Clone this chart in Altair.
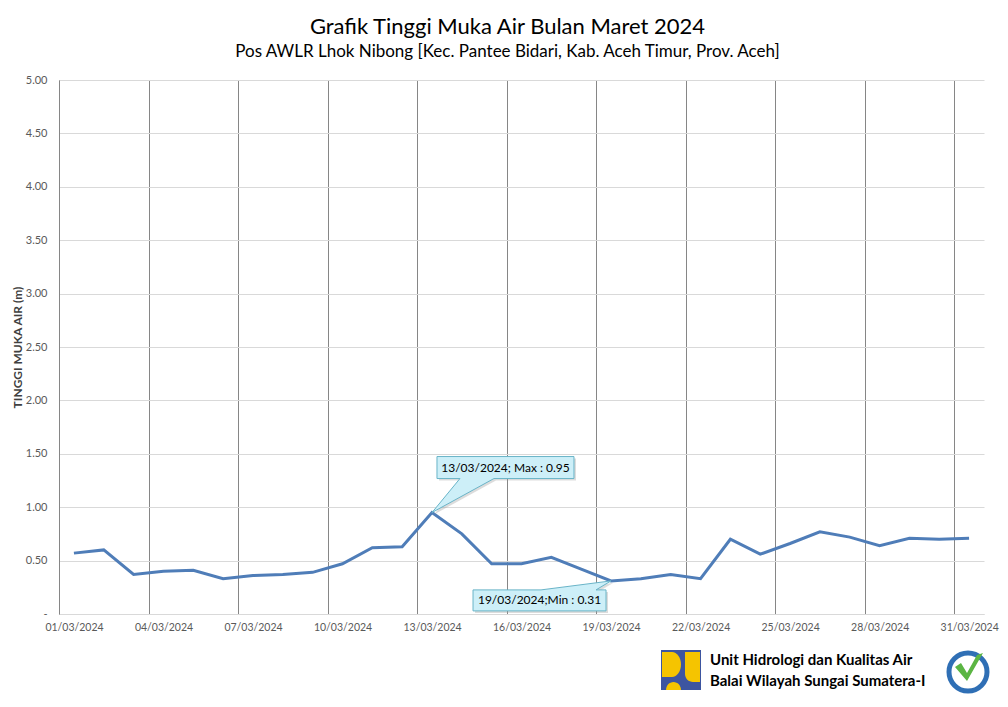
import altair as alt
import pandas as pd

# ---- data ----
days = list(range(1, 32))
dates = [f"2024-03-{d:02d}T12:00:00" for d in days]
levels = [0.57, 0.60, 0.37, 0.40, 0.41, 0.33, 0.36, 0.37, 0.39, 0.47,
          0.62, 0.63, 0.95, 0.75, 0.47, 0.47, 0.53, 0.42, 0.31, 0.33,
          0.37, 0.33, 0.70, 0.56, 0.66, 0.77, 0.72, 0.64, 0.71, 0.70, 0.71]
tick_days = [1, 4, 7, 10, 13, 16, 19, 22, 25, 28, 31]
y_ticks = [0, 0.5, 1.0, 1.5, 2.0, 2.5, 3.0, 3.5, 4.0, 4.5, 5.0]

title_text = "Grafik Tinggi Muka Air Bulan Maret 2024"
subtitle_text = "Pos AWLR Lhok Nibong [Kec. Pantee Bidari, Kab. Aceh Timur, Prov. Aceh]"
y_title = "TINGGI MUKA AIR (m)"
org_lines = ["Unit Hidrologi dan Kualitas Air", "Balai Wilayah Sungai Sumatera-I"]

df = pd.DataFrame({"date": dates, "level": levels})

FONT = "Lato"
LINE_COLOR = "#4f7db8"
CALLOUT_FILL = "#cdeff8"
CALLOUT_STROKE = "#69b4c8"

x_enc = alt.X(
    "date:T",
    scale=alt.Scale(domain=[alt.DateTime(year=2024, month=3, date=1),
                            alt.DateTime(year=2024, month=4, date=1)]),
    axis=alt.Axis(
        values=[alt.DateTime(year=2024, month=3, date=d) for d in tick_days],
        format="%d/%m/%Y", title=None, grid=True, gridColor="#868686",
        gridWidth=1, ticks=False, domainColor="#d9d9d9", labelOffset=15,
        labelPadding=8, labelColor="#595959", labelFontSize=10.5,
        labelFont=FONT, labelOverlap=False, labelFlush=False,
    ),
)
y_enc = alt.Y(
    "level:Q",
    scale=alt.Scale(domain=[0, 5]),
    axis=alt.Axis(
        values=y_ticks, title=y_title,
        labelExpr="datum.value == 0 ? '-' : format(datum.value, '.2f')",
        gridColor="#d9d9d9", ticks=False, domainColor="#868686",
        labelPadding=12, labelColor="#595959", labelFontSize=11, labelFont=FONT,
        titleFont=FONT, titleFontSize=12, titleFontWeight="bold",
        titleColor="#404040", titlePadding=1,
    ),
)

base = alt.Chart(df)

line = base.mark_line(color=LINE_COLOR, strokeWidth=3).encode(x=x_enc, y=y_enc)

# callout shapes (pixel paths relative to the data point; size=4 -> 1 unit = 1px)
MAX_PATH = "M0,0 L28,-34 L5,-34 L5,-56 L142,-56 L142,-34 L62,-34 Z"
MIN_PATH = "M0,0 L-15,9 L-5,9 L-5,30 L-138,30 L-138,9 L-70,9 Z"

max_src = base.transform_joinaggregate(mx="max(level)").transform_filter(
    "datum.level == datum.mx"
).transform_calculate(
    label="timeFormat(toDate(datum.date), '%d/%m/%Y') + '; Max : ' + format(datum.level, '.2f')"
)
min_src = base.transform_joinaggregate(mn="min(level)").transform_filter(
    "datum.level == datum.mn"
).transform_calculate(
    label="timeFormat(toDate(datum.date), '%d/%m/%Y') + ';Min : ' + format(datum.level, '.2f')"
)


def callout(src, path, tdx, tdy):
    shadow = src.mark_point(shape=path, size=4, filled=True, fill="#9a9a9a",
                            opacity=0.35, strokeWidth=0, xOffset=2, yOffset=2
                            ).encode(x="date:T", y="level:Q")
    box = src.mark_point(shape=path, size=4, filled=True, fill=CALLOUT_FILL,
                         stroke=CALLOUT_STROKE, strokeWidth=1, opacity=1,
                         fillOpacity=1).encode(x="date:T", y="level:Q")
    txt = src.mark_text(dx=tdx, dy=tdy, font=FONT, fontSize=12, color="black",
                        align="center", baseline="middle"
                        ).encode(x="date:T", y="level:Q", text="label:N")
    return [shadow, box, txt]


layers = [line] + callout(max_src, MAX_PATH, 73.5, -45) + callout(min_src, MIN_PATH, -71.5, 19.5)

# ---- footer decorations (logo, org text, badge) ----
one = alt.Chart(pd.DataFrame({"k": [0]}))

LOGO_SQ = "M-20,-20 L20,-20 L20,20 L-20,20 Z"
LOGO_D = "M-19,-18 L-9,-18 A9,12.5 0 0 1 -9,7 L-19,7 Z"
LOGO_R = "M4,-18 L19,-18 L19,12 L12,12 A8,8 0 0 1 4,4 Z"
LOGO_B = "M-15,20 A7.5,8 0 0 1 0,20 Z"
logo_pos = dict(x=alt.value(622), y=alt.value(590))
layers.append(one.mark_point(shape=LOGO_SQ, size=4, filled=True, fill="#3d55a0", opacity=1).encode(**logo_pos))
for p in (LOGO_D, LOGO_R, LOGO_B):
    layers.append(one.mark_point(shape=p, size=4, filled=True, fill="#f5c400", opacity=1).encode(**logo_pos))

for i, t in enumerate(org_lines):
    layers.append(one.mark_text(text=t, font=FONT, fontSize=15, fontWeight="bold",
                                color="black", align="left", baseline="middle"
                                ).encode(x=alt.value(651), y=alt.value(580 + 21 * i)))

RING = "M-19,0 A19,19 0 1 1 19,0 A19,19 0 1 1 -19,0 Z"
CHECK = "M-13,-5 L-1,9 L15,-19 L9,-17 L-1,1 L-7,-9 Z"
badge_pos = dict(x=alt.value(909), y=alt.value(592))
layers.append(one.mark_point(shape=RING, size=4, filled=False, stroke="#2f6fb5",
                             strokeWidth=5, opacity=1).encode(**badge_pos))
layers.append(one.mark_point(shape=CHECK, size=4, filled=True, fill="#5bb543",
                             opacity=1).encode(**badge_pos))

chart = alt.layer(*layers).properties(
    width=925, height=534,
    padding={"left": 51, "top": 72, "right": 16, "bottom": 84},
    autosize="none",
    background="white",
    title=alt.TitleParams(
        text=title_text, subtitle=subtitle_text, font=FONT, fontSize=22,
        fontWeight="normal", color="black", subtitleFont=FONT,
        subtitleFontSize=17, subtitleColor="black", anchor="middle",
        dx=-14, offset=13, subtitlePadding=5,
    ),
).configure_view(stroke="transparent")

chart.save("out.html", embed_options={"renderer": "svg", "actions": False})
